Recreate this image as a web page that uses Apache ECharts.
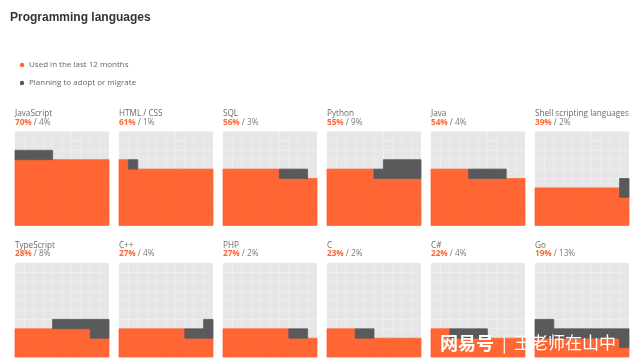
<!DOCTYPE html>
<html><head><meta charset="utf-8">
<script src="https://cdn.jsdelivr.net/npm/echarts@6/dist/echarts.min.js"></script>
<style>html,body{margin:0;padding:0;background:#fff}#c{width:640px;height:364px}</style>
</head><body><div id="c"></div>
<script>
const languages = ['JavaScript', 'HTML / CSS', 'SQL', 'Python', 'Java', 'Shell scripting languages',
                   'TypeScript', 'C++', 'PHP', 'C', 'C#', 'Go'];
const usedPct = [70, 61, 56, 55, 54, 39, 28, 27, 27, 23, 22, 19];
const planPct = [4, 1, 3, 9, 4, 2, 8, 4, 2, 2, 4, 13];
const legendLabels = ['Used in the last 12 months', 'Planning to adopt or migrate'];
const chartTitle = 'Programming languages';

const COLORS = ['#e6e6e6', '#ff6633', '#595959'];

function waffleCells(u, p) {
  const g = [];
  for (let r = 0; r < 10; r++) g.push(new Array(10).fill(0));
  for (let i = 0; i < u; i++) g[Math.floor(i / 10)][i % 10] = 1;
  let row = Math.floor(u / 10), col = u % 10, dir = 1;
  for (let k = 0; k < p; k++) {
    if (row > 9) break;
    g[row][col] = 2;
    col += dir;
    if (col > 9 || col < 0) { row++; dir = -dir; col = dir > 0 ? 0 : 9; }
  }
  const out = [];
  for (let r = 0; r < 10; r++) for (let c = 0; c < 10; c++) out.push([c, r, g[r][c]]);
  out.sort((a, b) => a[2] - b[2]);
  return out;
}

const grids = [], xAxes = [], yAxes = [], series = [], graphics = [];
const LEFT0 = 15, STEP = 104, SIZE = 94, TOPS = [131.5, 263];
languages.forEach((name, i) => {
  const col = i % 6, row = Math.floor(i / 6);
  const left = LEFT0 + col * STEP, top = TOPS[row];
  grids.push({ left: left, top: top, width: SIZE, height: SIZE });
  xAxes.push({ gridIndex: i, type: 'value', min: 0, max: 10, show: false });
  yAxes.push({ gridIndex: i, type: 'value', min: 0, max: 10, show: false });
  series.push({
    type: 'custom', xAxisIndex: i, yAxisIndex: i, silent: true,
    data: waffleCells(usedPct[i], planPct[i]),
    renderItem: function (params, api) {
      const x = api.value(0), y = api.value(1), k = api.value(2);
      const p0 = api.coord([x, y + 1]), p1 = api.coord([x + 1, y]);
      return {
        type: 'rect',
        shape: { x: p0[0], y: p0[1], width: p1[0] - p0[0], height: p1[1] - p0[1] },
        style: { fill: COLORS[k], stroke: k === 0 ? '#f0f0f0' : COLORS[k], lineWidth: k === 0 ? 0.5 : 0.8 }
      };
    }
  });
  graphics.push({
    type: 'text', x: left, y: top - 17.5,
    style: { text: name, font: '8.2px "Open Sans", sans-serif', fill: '#6a6a6a', verticalAlign: 'middle' }
  });
  graphics.push({
    type: 'text', x: left, y: top - 9,
    style: {
      text: '{a|' + usedPct[i] + '%}{b| / ' + planPct[i] + '%}',
      verticalAlign: 'middle',
      rich: {
        a: { font: 'bold 8.2px "Open Sans", sans-serif', fill: '#ff6633' },
        b: { font: '8.2px "Open Sans", sans-serif', fill: '#7a7a7a' }
      }
    }
  });
});

graphics.push({
  type: 'text', x: 10, y: 18,
  style: { text: chartTitle, font: 'bold 12px "Liberation Sans", Arial, sans-serif', fill: '#333', verticalAlign: 'middle' }
});
legendLabels.forEach((t, j) => {
  const y = 65 + j * 18;
  graphics.push({ type: 'circle', shape: { cx: 22, cy: y, r: 2.2 }, style: { fill: COLORS[j + 1] } });
  graphics.push({ type: 'text', x: 29, y: y, style: { text: t, font: '8px "Open Sans", sans-serif', fill: '#666', verticalAlign: 'middle' } });
});
// watermark
const wmShadow = { shadowColor: 'rgba(0,0,0,0.7)', shadowBlur: 3, shadowOffsetX: 1, shadowOffsetY: 1 };
graphics.push({
  type: 'text', x: 440, y: 343, z: 100,
  style: Object.assign({ text: '网易号', font: 'bold 18px "Noto Sans CJK SC", sans-serif', fill: '#fff', verticalAlign: 'middle' }, wmShadow)
});
graphics.push({
  type: 'text', x: 502, y: 343, z: 100,
  style: Object.assign({ text: '|', font: '17px "Noto Sans CJK SC", sans-serif', fill: '#fff', verticalAlign: 'middle' }, wmShadow)
});
graphics.push({
  type: 'text', x: 514, y: 343, z: 100,
  style: Object.assign({ text: '王老师在山中', font: '17px "Noto Sans CJK SC", sans-serif', fill: '#fff', verticalAlign: 'middle' }, wmShadow)
});

const chart = echarts.init(document.getElementById('c'), null, { renderer: 'canvas' });
chart.setOption({
  animation: false,
  backgroundColor: '#fff',
  grid: grids, xAxis: xAxes, yAxis: yAxes, series: series,
  graphic: { elements: graphics }
});
</script></body></html>
